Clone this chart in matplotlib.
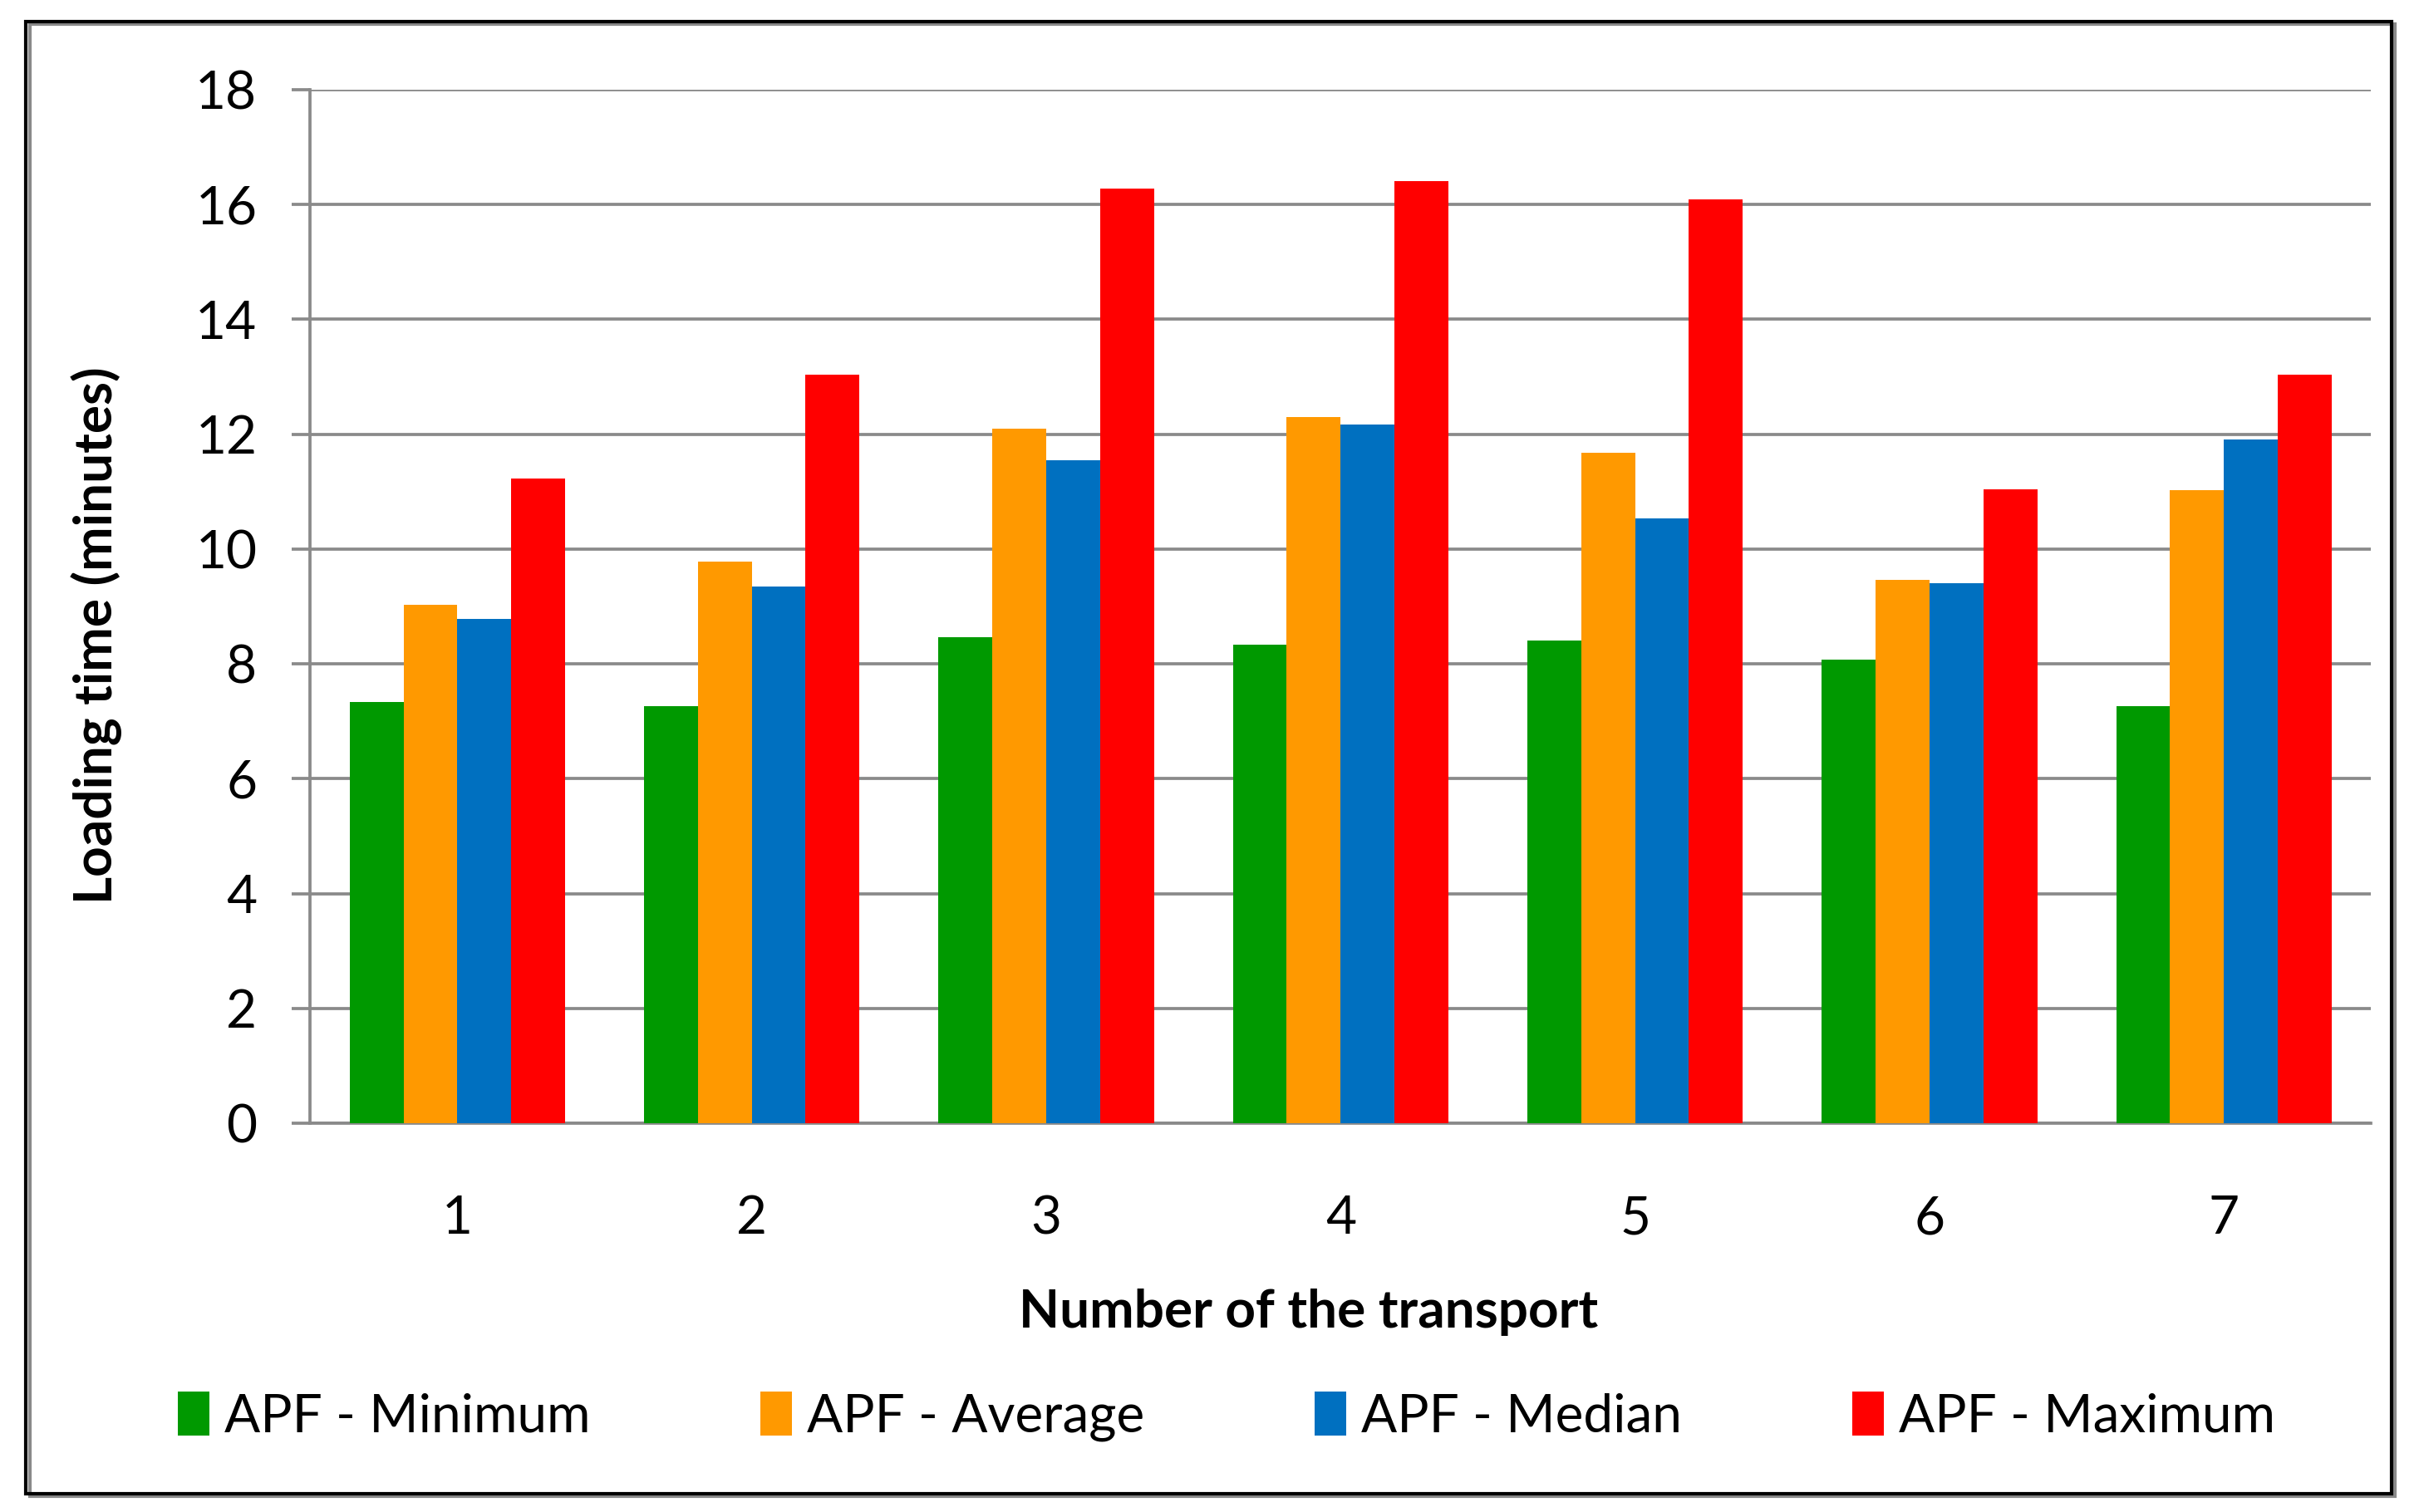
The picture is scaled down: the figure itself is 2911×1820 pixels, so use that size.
import matplotlib
matplotlib.use('Agg')
import matplotlib.pyplot as plt
from matplotlib.patches import Rectangle
import numpy as np

plt.rcParams['font.family'] = ['Lato', 'DejaVu Sans']

# transport numbers and loading times (minutes)
transports = ['1', '2', '3', '4', '5', '6', '7']
apf_min = [7.33, 7.27, 8.47, 8.34, 8.40, 8.08, 7.27]
apf_avg = [9.03, 9.78, 12.10, 12.29, 11.68, 9.46, 11.03]
apf_median = [8.78, 9.34, 11.54, 12.17, 10.53, 9.41, 11.90]
apf_max = [11.22, 13.04, 16.28, 16.40, 16.09, 11.04, 13.04]

series_names = ['APF - Minimum', 'APF - Average', 'APF - Median', 'APF - Maximum']
colors = ['#009900', '#FF9900', '#0070C0', '#FF0000']
y_ticks = [0, 2, 4, 6, 8, 10, 12, 14, 16, 18]

fs = 46

fig = plt.figure(figsize=(29.11, 18.20), dpi=100)
ax = fig.add_axes([0.1282, 0.2571, 0.8520, 0.6837])

x = np.arange(1, len(transports) + 1)
bar_w = 0.183
all_series = [apf_min, apf_avg, apf_median, apf_max]
for i, (vals, name, c) in enumerate(zip(all_series, series_names, colors)):
    ax.bar(x + (i - 1.5) * bar_w, vals, width=bar_w, color=c, label=name,
           zorder=3, linewidth=0)

ax.set_xlim(0.5, 7.5)
ax.set_ylim(0, 18)
ax.set_yticks(y_ticks)
ax.set_xticks(x)
ax.set_xticklabels(transports)
ax.yaxis.grid(True, color='#8a8a8a', linewidth=2.7, zorder=0)
ax.set_axisbelow(True)

for s in ['top', 'right']:
    ax.spines[s].set_visible(False)
for s in ['left', 'bottom']:
    ax.spines[s].set_color('#8a8a8a')
    ax.spines[s].set_linewidth(2.7)

ax.tick_params(axis='y', length=16, width=2.7, color='#8a8a8a',
               labelsize=fs, pad=30)
ax.tick_params(axis='x', length=0, labelsize=fs, pad=62)

fig.text(0.040, 0.58, 'Loading time (minutes)', rotation=90, fontsize=fs,
         fontweight='bold', ha='center', va='center')
fig.text(0.541, 0.132, 'Number of the transport', fontsize=fs,
         fontweight='bold', ha='center', va='center')

fig.legend(loc='center', bbox_to_anchor=(0.507, 0.063), ncol=4,
           frameon=False, fontsize=fs, handlelength=0.6, handleheight=0.9,
           handletextpad=0.28, columnspacing=3.2)

# outer chart frame with a light shadow
fig.patches.append(Rectangle((0.0125, 0.0105), 0.9775, 0.9735,
                             transform=fig.transFigure, fill=False,
                             edgecolor='#8a8a8a', linewidth=3.0, zorder=-1))
fig.patches.append(Rectangle((0.0108, 0.0122), 0.9777, 0.9735,
                             transform=fig.transFigure, fill=False,
                             edgecolor='black', linewidth=3.0))

fig.savefig('out.png', dpi=100, facecolor='white')
